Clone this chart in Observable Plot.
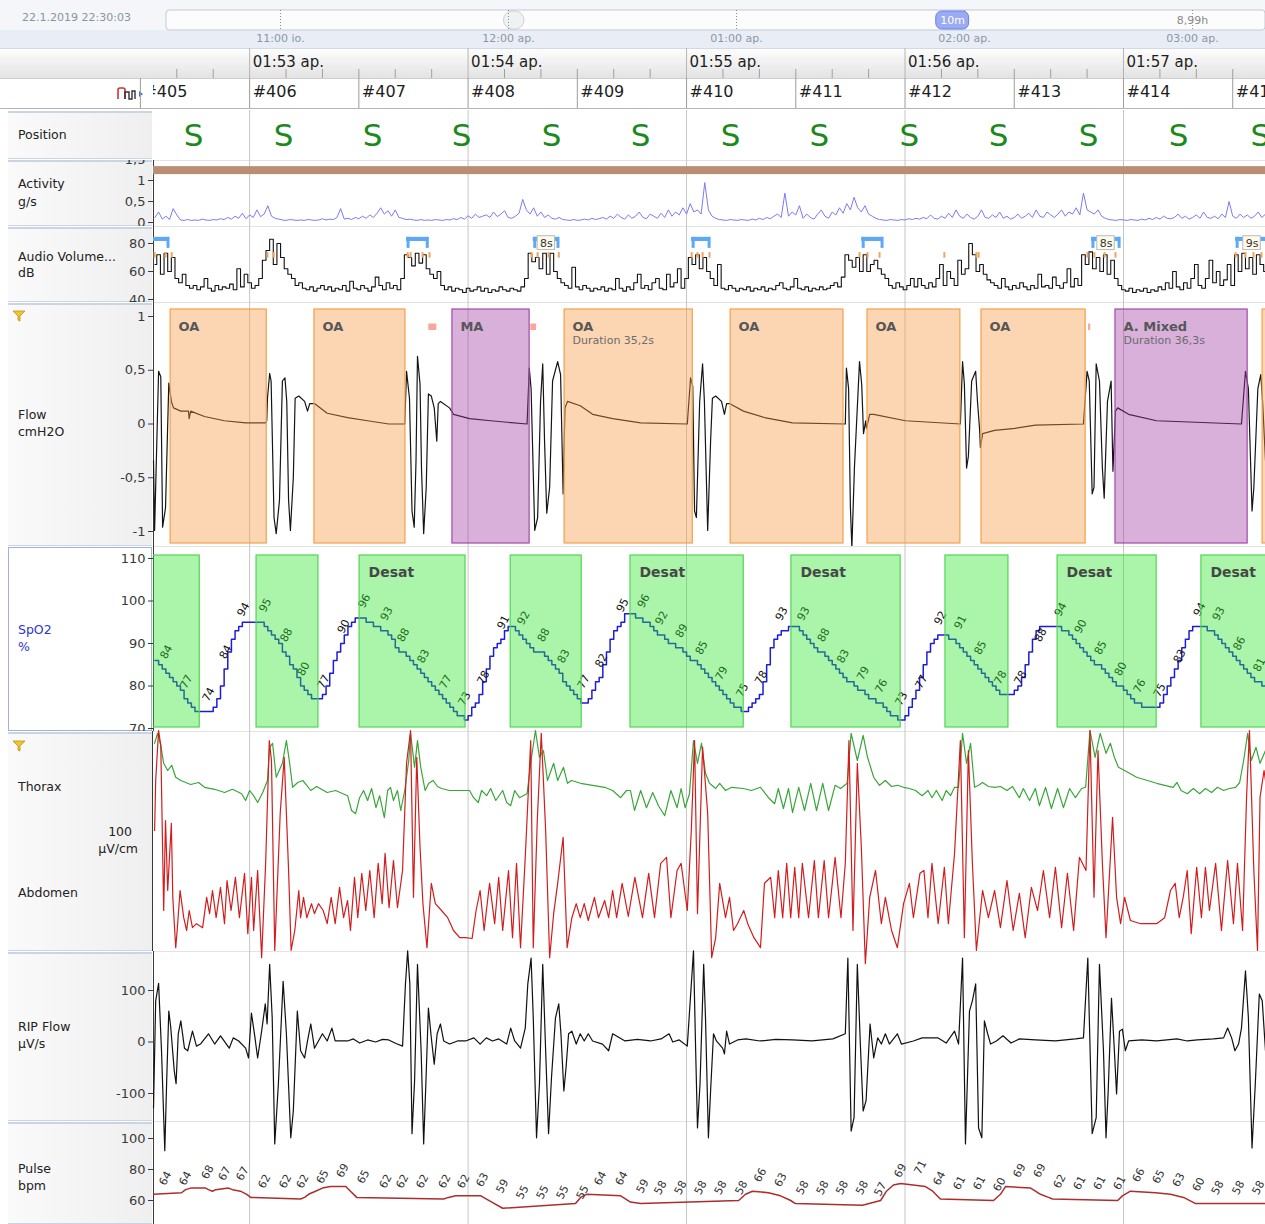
<!DOCTYPE html>
<html><head><meta charset="utf-8">
<script src="https://cdn.jsdelivr.net/npm/d3@7"></script>
<script src="https://cdn.jsdelivr.net/npm/@observablehq/plot@0.6"></script>
<style>
body{margin:0;background:#fff;font-family:"DejaVu Sans",sans-serif;}
#root{position:relative;width:1265px;height:1224px;overflow:hidden;background:#fff;}
.lbl{position:absolute;font-size:12.5px;color:#222;line-height:16px;white-space:nowrap;}
</style>
</head><body><div id="root"></div>
<script>
// ---------------- DATA ----------------
// time axis: seconds relative to 01:53:00 ap.
const timeDomain = [-26.4, 279.0];
const sampleStart = -26;             // per-second series start
const minuteTimes = [0, 60, 120, 180, 240];
const minuteLabels = ["01:53 ap.", "01:54 ap.", "01:55 ap.", "01:56 ap.", "01:57 ap."];
const tenSecondTicks = [-20,-10,10,20,30,40,50,70,80,90,100,110,130,140,150,160,170,190,200,210,220,230,250,260,270];
const epochStarts = [-30,0,30,60,90,120,150,180,210,240,270];
const epochLabels = ["#405","#406","#407","#408","#409","#410","#411","#412","#413","#414","#415"];

// overview (hours of the night)
const overviewSpan = [22.5, 27.32];
const hourTicks = [23, 24, 25, 26, 27];
const hourLabels = ["11:00 io.", "12:00 ap.", "01:00 ap.", "02:00 ap.", "03:00 ap."];
const viewPill = [{from: 25.876, to: 26.02, mid: 25.948, label: "10m"}];
const recordLength = [{at: 27, label: "8,99h"}];
const handle = [{from: 23.98, to: 24.07}];

// position
const positionTimes = [-15.4, 9.3, 33.8, 58.2, 82.9, 107.4, 132.1, 156.5, 181.2, 205.7, 230.4, 255.1, 277.6];
const positionCodes = ["S","S","S","S","S","S","S","S","S","S","S","S","S"];

// activity g/s, one value per second
const activity = [
0.12,0.25,0.08,0.15,0.07,0.33,0.18,0.06,0.05,0.07, 0.05,0.06,0.05,0.08,0.06,0.05,0.07,0.06,0.09,0.07,
0.12,0.08,0.15,0.1,0.22,0.09,0.18,0.12,0.3,0.14, 0.2,0.4,0.15,0.1,0.08,0.06,0.05,0.07,0.06,0.05,
0.06,0.05,0.07,0.06,0.05,0.06,0.09,0.06,0.08,0.07, 0.12,0.33,0.08,0.1,0.07,0.12,0.09,0.15,0.1,0.18,
0.12,0.22,0.35,0.2,0.28,0.15,0.3,0.12,0.1,0.07, 0.08,0.06,0.05,0.07,0.05,0.06,0.05,0.07,0.06,0.05,
0.07,0.06,0.09,0.07,0.12,0.08,0.16,0.1,0.2,0.12, 0.15,0.18,0.12,0.25,0.14,0.2,0.28,0.12,0.1,0.15,
0.22,0.55,0.3,0.2,0.35,0.15,0.25,0.12,0.18,0.1, 0.08,0.12,0.07,0.06,0.05,0.07,0.05,0.06,0.08,0.06,
0.1,0.07,0.09,0.12,0.08,0.15,0.1,0.2,0.12,0.08, 0.18,0.1,0.15,0.25,0.12,0.09,0.2,0.15,0.1,0.22,
0.12,0.3,0.15,0.25,0.18,0.35,0.2,0.45,0.25,0.3, 0.2,0.95,0.3,0.15,0.1,0.07,0.06,0.05,0.07,0.06,
0.05,0.07,0.06,0.05,0.08,0.06,0.1,0.07,0.12,0.09, 0.15,0.2,0.12,0.7,0.15,0.25,0.18,0.4,0.1,0.2,
0.12,0.08,0.2,0.3,0.15,0.1,0.25,0.18,0.35,0.22, 0.45,0.3,0.6,0.35,0.25,0.4,0.2,0.15,0.1,0.07,
0.06,0.05,0.07,0.06,0.05,0.07,0.06,0.09,0.07,0.1, 0.08,0.12,0.09,0.18,0.1,0.08,0.15,0.1,0.22,0.12,
0.3,0.15,0.1,0.2,0.12,0.08,0.15,0.3,0.12,0.1, 0.18,0.12,0.25,0.1,0.15,0.08,0.12,0.2,0.1,0.15,
0.22,0.12,0.3,0.15,0.12,0.25,0.18,0.12,0.2,0.3, 0.15,0.25,0.2,0.35,0.18,0.7,0.3,0.25,0.2,0.3,
0.15,0.1,0.07,0.06,0.05,0.07,0.06,0.05,0.07,0.06, 0.05,0.08,0.06,0.1,0.07,0.12,0.08,0.15,0.1,0.09,
0.12,0.2,0.1,0.15,0.08,0.12,0.18,0.1,0.25,0.12, 0.1,0.15,0.09,0.2,0.12,0.5,0.15,0.1,0.2,0.12,
0.18,0.1,0.15,0.25,0.12,0.2];
const activityBand = [{from: -26.4, to: 279.0, lo: 1.14, hi: 1.33}];

// audio volume dB, one value per second
const audio = [
65,72,58,73,60,70,55,52,58,50, 48,50,47,49,55,48,46,50,47,49,
48,51,47,62,49,58,52,48,50,55, 68,75,83,65,80,70,62,58,55,50,
52,48,47,49,46,48,50,47,49,46, 48,47,50,46,53,48,47,50,48,46,
49,56,50,47,52,48,50,47,55,72, 70,64,73,66,72,62,58,55,60,50,
47,49,46,48,47,45,48,46,47,49, 46,48,45,47,46,49,47,46,48,47,
46,49,55,73,67,70,62,73,58,73, 60,55,52,50,48,63,49,47,50,48,
46,48,47,49,46,48,47,55,48,46, 49,47,52,58,48,50,47,52,55,48,
47,58,49,52,62,48,55,70,65,72, 62,70,60,55,50,65,48,47,50,48,
46,48,47,49,46,48,47,49,46,48, 47,50,52,48,47,49,55,48,47,49,
46,48,47,49,47,48,50,52,49,56, 72,68,63,70,60,72,60,65,68,62,
58,55,50,48,52,49,47,50,55,49, 55,50,48,52,49,55,65,50,60,55,
50,68,58,62,80,72,60,65,58,54, 52,50,48,55,49,47,50,48,52,49,
47,50,48,58,49,50,48,56,50,48, 52,62,49,55,50,72,65,74,62,70,
60,72,58,68,55,50,47,46,48,45, 47,46,48,45,47,46,49,47,52,48,
60,49,47,52,48,55,65,50,48,55, 68,52,60,50,54,65,50,72,60,73,
62,70,58,72,65,60];
const snoreStart = [-27.5, 43.1, 77.9, 121.4, 168.1, 231.2, 270.8];
const snoreEnd   = [-22.0, 49.2, 85.1, 126.6, 174.1, 239.2, 279.8];
const snoreLabel = ["", "", "8s", "", "", "8s", "9s"];
const snoreTicks = [-26.1,-23.1,-21.4,4.9,6.6,43.4,44.2,47.5,49.4,77.4,79.1,82.1,84.9,121.4,123.0,124.4,126.3,167.5,169.7,173.0,190.8,199.6,200.2,230.1,232.0,234.8,237.8,270.8,273.5,275.7,277.9];

// flow cmH2O, [time, value]
const flow = [[-26.4,-0.34],[-26.1,-0.99],[-25.0,0.49],[-24.4,0.44],[-23.9,-0.96],[-23.1,-0.78],[-22.2,0.38],[-21.5,0.21],[-20.9,0.15],[-18.9,0.12],[-16.8,0.12],[-16.6,0.05],[-16.2,0.12],[-12.4,0.07],[-6.9,0.03],[-1.1,0.01],[4.4,0.01],[4.7,0.03],[4.9,0.24],[5.5,0.47],[5.9,0.40],[6.7,-0.87],[7.3,-1.02],[8.2,-0.71],[9.0,0.40],[9.7,0.43],[10.2,0.21],[10.7,-0.71],[11.2,-0.99],[12.0,-0.50],[12.5,0.24],[13.5,0.26],[15.1,0.21],[15.9,0.12],[16.5,0.19],[17.8,0.19],[21.3,0.10],[26.9,0.06],[32.4,0.03],[38.2,0.00],[42.6,0.00],[43.1,0.49],[43.9,0.24],[44.6,-0.81],[45.2,-0.96],[45.7,-0.34],[46.1,0.63],[46.8,0.37],[47.2,-0.41],[47.8,-1.02],[48.5,-0.59],[49.1,0.28],[49.9,0.26],[50.7,0.15],[51.4,-0.16],[51.8,0.19],[52.4,0.21],[54.9,0.15],[56.0,0.09],[60.4,0.05],[66.2,0.03],[76.2,0.00],[76.8,0.52],[77.3,0.33],[78.3,-0.99],[79.1,-0.87],[79.9,0.21],[80.5,0.56],[81.0,-0.16],[81.6,-0.83],[82.4,-0.59],[83.2,0.40],[84.6,0.58],[85.4,0.46],[86.1,-0.65],[86.6,0.15],[87.3,0.21],[90.8,0.17],[94.2,0.09],[99.7,0.05],[107.4,0.01],[120.2,0.00],[121.1,0.43],[121.7,0.35],[122.2,-0.81],[122.7,-0.87],[123.6,0.21],[124.4,0.56],[124.9,0.21],[125.8,-0.99],[126.6,-0.16],[127.1,0.24],[128.0,0.26],[129.6,0.21],[130.4,0.09],[131.0,0.19],[131.8,0.19],[135.6,0.12],[141.4,0.06],[149.1,0.01],[163.6,0.00],[163.9,0.52],[164.5,0.33],[165.0,-0.78],[165.4,-1.15],[166.1,-0.41],[167.5,0.58],[168.1,0.37],[168.6,-0.09],[169.2,0.03],[169.4,-0.04],[170.3,0.09],[171.4,0.09],[180.1,0.03],[195.2,0.00],[195.8,0.58],[196.3,0.37],[196.9,-0.41],[197.4,-0.30],[198.3,0.40],[199.4,0.49],[199.9,0.21],[200.5,-0.06],[200.7,-0.22],[201.3,-0.09],[204.6,-0.06],[210.2,-0.04],[215.8,-0.01],[229.0,0.00],[230.0,0.49],[230.6,0.40],[231.4,-0.65],[231.9,-0.59],[232.5,0.56],[233.4,0.40],[234.2,-0.41],[234.7,-0.69],[235.6,0.21],[236.6,0.40],[237.1,-0.44],[237.8,0.12],[238.4,0.15],[241.4,0.09],[249.1,0.03],[272.4,0.00],[273.5,0.49],[274.3,0.33],[275.3,-0.81],[275.8,-0.59],[276.9,0.33],[277.7,0.46],[278.2,0.21],[279.0,-0.34]];
const apneaStart = [-21.7, 17.8, 55.7, 86.5, 132.1, 169.7, 201.0, 237.8, 278.2];
const apneaEnd   = [4.7, 42.8, 76.9, 121.7, 163.1, 195.2, 229.6, 274.1, 300];
const apneaType  = ["OA","OA","MA","OA","OA","OA","OA","A. Mixed","OA"];
const apneaNote  = ["","","","Duration 35,2s","","","","Duration 36,3s",""];
const arousalStart = [49.2, 77.2, 230.4];
const arousalEnd   = [51.4, 78.8, 231.0];

// SpO2 %, one value per second
const spo2 = [
86,85,84,83,82,81,80,79,77,76, 75,74,74,74,74,74,75,77,80,84,
88,91,93,94,95,95,95,95,95,95, 94,93,92,91,90,88,87,85,84,82,
80,79,78,77,77,77,78,80,83,86, 88,90,92,94,95,96,96,96,95,95,
94,94,93,93,92,91,89,88,88,87, 86,85,84,83,82,81,80,79,78,77,
76,75,74,73,73,72,73,75,76,78, 81,84,87,89,90,91,93,94,94,93,
92,91,90,89,88,88,88,87,86,85, 84,83,81,80,79,78,77,76,76,77,
79,81,82,85,88,91,93,94,95,97, 97,97,96,96,95,95,94,93,92,92,
91,90,90,89,89,88,87,86,86,85, 84,83,82,81,80,79,78,77,76,75,
75,74,74,75,76,77,78,81,85,89, 91,92,93,93,94,94,94,93,92,91,
90,89,88,88,87,86,85,84,83,82, 81,81,80,79,79,78,77,77,76,76,
75,74,73,73,72,72,73,75,77,79, 82,85,88,90,91,92,92,92,91,91,
90,89,88,87,86,85,84,83,82,81, 80,79,78,78,78,78,79,80,82,85,
88,91,93,94,94,94,94,94,94,93, 93,92,91,90,89,88,87,86,85,85,
84,83,82,81,80,80,79,78,77,76, 76,75,75,75,75,75,76,78,80,82,
84,86,89,91,93,94,94,94,94,93, 93,92,91,90,89,88,87,86,85,84,
83,82,81,81,80,80];
const valueLabelTimes = [-23.7,-18.2,-12.1,-7.4,-2.5,3.5,9.3,14.0,19.5,25.0,30.7,36.8,41.4,46.9,53.0,58.2,63.4,68.9,74.4,79.9,85.4,90.9,95.8,101.6,107.4,112.3,117.8,123.3,128.8,134.5,139.7,145.3,151.3,156.8,162.2,167.7,172.7,178.2,183.7,188.9,194.4,199.9,205.4,210.9,216.4,221.9,227.4,232.9,238.4,243.6,249.1,254.6,260.1,265.3,271.0,276.5];
const spo2LabelValues = [84,77,74,84,94,95,88,80,77,90,96,93,88,83,77,73,78,91,92,88,83,77,82,95,96,92,89,85,79,75,78,93,93,88,83,79,76,73,77,92,91,85,78,78,88,94,90,85,80,76,75,83,94,93,86,81];
const desatStart = [-40, 1.9, 30.2, 71.7, 104.6, 148.8, 191.1, 221.9, 261.4];
const desatEnd   = [-13.7, 18.9, 59.3, 91.2, 135.7, 178.8, 208.4, 249.1, 290];
const desatLabeled = [false,false,true,false,true,true,false,true,true];

// thorax / abdomen µV, [time, value]
const thorax = [[-26.1,118],[-25.3,143],[-24.4,113],[-23.6,68],[-22.5,50],[-21.4,63],[-20.3,33],[-18.9,25],[-16.2,15],[-14.0,20],[-12.4,8],[-9.6,3],[-6.9,-5],[-4.7,3],[-2.2,-8],[-1.1,-25],[0.0,0],[1.1,-13],[2.2,-30],[3.6,-5],[4.9,25],[5.5,108],[6.3,118],[7.3,33],[9.0,68],[10.1,125],[11.0,68],[11.8,8],[13.2,20],[14.6,25],[15.7,13],[16.8,0],[18.4,10],[21.3,-5],[23.6,0],[26.9,-13],[28.0,-50],[29.1,-58],[30.2,-18],[31.3,0],[32.4,-25],[33.5,5],[34.7,-43],[35.7,-13],[37.0,-68],[37.9,0],[38.7,8],[39.5,-25],[40.6,0],[41.5,-50],[42.6,0],[43.7,75],[44.2,143],[45.3,58],[46.1,125],[47.0,58],[48.2,0],[49.2,18],[50.4,25],[51.6,10],[52.7,5],[54.9,0],[60.4,0],[61.5,-18],[62.8,-30],[63.7,0],[65.1,-13],[66.2,5],[67.6,-25],[69.5,0],[70.6,-30],[71.7,-38],[72.8,0],[74.1,-18],[76.2,-8],[77.3,75],[78.5,150],[79.6,83],[80.7,100],[81.8,25],[83.5,68],[84.6,25],[86.2,58],[87.3,18],[88.4,25],[90.9,18],[94.2,13],[97.5,8],[99.7,0],[101.9,-18],[103.5,0],[104.6,0],[105.7,-50],[107.4,0],[109.0,-43],[110.7,-5],[112.3,-38],[114.0,-63],[115.7,0],[117.4,-43],[118.5,5],[119.6,-43],[120.8,-8],[121.9,125],[123.0,68],[124.1,118],[125.2,43],[126.3,18],[128.0,5],[129.1,18],[130.7,0],[132.4,8],[135.6,5],[137.8,0],[140.3,8],[142.5,-18],[144.2,-33],[145.2,5],[146.6,-45],[148.0,5],[149.1,-55],[150.8,8],[152.4,-50],[154.1,18],[155.7,-50],[157.4,18],[159.0,-50],[160.8,13],[162.3,5],[164.1,18],[165.2,143],[166.9,75],[168.5,138],[169.7,83],[171.4,33],[173.0,13],[174.6,25],[176.3,10],[177.9,13],[179.6,8],[181.2,5],[182.9,0],[184.7,-13],[186.3,0],[187.4,-18],[188.6,0],[190.2,-25],[191.3,0],[192.5,-13],[193.6,8],[194.7,8],[195.8,143],[196.9,68],[198.0,118],[199.1,8],[200.2,13],[201.3,20],[202.9,10],[204.6,8],[206.2,10],[208.0,0],[209.5,10],[211.4,-18],[212.5,5],[214.2,-25],[215.8,5],[216.9,-38],[218.6,8],[220.2,-45],[221.9,5],[223.5,-43],[225.2,5],[226.8,-18],[228.5,5],[229.6,8],[230.8,150],[232.2,83],[233.6,143],[235.2,93],[236.4,118],[237.5,83],[238.6,58],[240.3,50],[243.6,33],[249.1,18],[253.6,8],[254.7,20],[255.8,0],[257.5,-8],[259.2,5],[260.9,-8],[262.5,5],[264.2,-5],[265.8,8],[267.5,0],[269.1,5],[270.8,8],[271.9,20],[273.0,75],[274.1,143],[275.1,75],[276.4,108],[277.5,68],[279.0,100]];
const abdomen = [[-26.1,175],[-25.8,300],[-25.0,425],[-24.4,388],[-23.6,-25],[-23.1,200],[-22.5,25],[-21.5,193],[-21.1,8],[-20.3,-118],[-19.9,-75],[-19.1,25],[-18.1,-43],[-17.3,-75],[-16.6,-25],[-15.7,-68],[-14.6,-58],[-12.9,-68],[-11.8,8],[-11.0,-33],[-10.2,25],[-9.2,-43],[-8.0,33],[-6.9,-58],[-6.2,50],[-5.1,-25],[-3.9,58],[-2.8,-43],[-1.4,68],[-0.5,-83],[0.5,58],[1.1,-75],[2.2,75],[3.3,-143],[4.4,93],[5.4,400],[6.0,350],[6.9,-125],[8.4,218],[9.5,358],[10.7,75],[11.4,-125],[12.4,-75],[13.5,25],[14.0,-43],[14.8,8],[15.7,-43],[17.0,-8],[17.8,-33],[18.9,-8],[20.2,-25],[21.3,-58],[22.4,8],[23.5,-58],[24.7,33],[25.8,-43],[26.9,0],[27.7,-75],[28.8,58],[29.7,-43],[30.8,68],[31.9,-25],[33.0,75],[34.2,-43],[35.3,93],[36.4,-8],[37.2,118],[38.3,-18],[39.5,100],[40.6,-18],[42.0,75],[43.1,343],[44.2,425],[45.0,8],[45.9,358],[46.8,133],[47.6,-8],[48.7,-118],[49.9,43],[51.0,-8],[52.7,-25],[54.4,-43],[56.0,-75],[57.7,-93],[59.3,-93],[61.1,-95],[62.2,-25],[63.3,25],[64.4,-75],[65.9,43],[67.3,-58],[68.4,58],[69.5,-75],[71.1,75],[72.2,-93],[73.3,93],[74.4,-118],[75.7,108],[77.2,400],[77.9,-118],[79.0,200],[80.1,418],[81.3,175],[82.4,-143],[83.5,-33],[84.6,43],[86.1,158],[87.2,-118],[88.5,-43],[89.7,-8],[90.8,-43],[91.9,-8],[93.0,-50],[94.7,8],[95.8,-43],[97.5,0],[98.6,-43],[99.7,25],[100.8,-43],[102.3,43],[104.0,-40],[105.8,58],[107.9,-43],[109.6,68],[111.2,-43],[112.9,93],[114.5,108],[115.7,-43],[117.4,75],[118.5,93],[120.2,-25],[121.3,175],[122.2,400],[123.0,-33],[124.4,383],[125.8,218],[126.9,-143],[128.0,-93],[129.1,43],[130.7,-43],[131.8,8],[132.9,-75],[134.0,-58],[135.7,-25],[136.8,-58],[138.5,-93],[140.3,-118],[141.4,43],[143.1,58],[144.2,-43],[145.2,75],[146.4,-43],[147.5,93],[148.6,-43],[149.7,83],[150.8,-43],[151.8,93],[153.5,-43],[155.1,100],[156.2,-43],[157.8,100],[159.0,-43],[160.8,108],[162.4,-43],[163.6,93],[164.6,400],[165.7,-75],[166.9,343],[168.0,133],[169.1,-158],[170.3,8],[171.9,75],[173.5,-58],[174.6,8],[176.3,-75],[177.9,-118],[179.6,-8],[181.2,43],[182.3,-43],[184.1,68],[185.2,75],[186.3,-43],[187.4,93],[189.1,-58],[190.8,83],[191.9,-58],[193.6,118],[195.2,400],[196.3,-93],[197.4,375],[198.5,93],[199.6,-125],[201.3,25],[202.9,-43],[204.6,25],[206.2,-68],[208.0,50],[209.7,-75],[211.4,18],[213.0,-93],[214.7,33],[216.4,-25],[218.0,75],[219.7,-43],[221.3,83],[223.0,-68],[224.6,68],[226.3,-75],[227.9,108],[229.7,75],[230.8,425],[231.9,8],[233.0,375],[234.2,93],[235.2,-93],[237.0,208],[238.1,8],[239.2,-58],[240.3,8],[241.9,-50],[244.7,-58],[249.1,-58],[251.3,-43],[252.9,25],[254.2,43],[255.3,-43],[256.4,8],[257.5,75],[258.6,-83],[260.1,83],[261.4,-43],[262.5,83],[263.6,-25],[265.3,93],[266.9,-75],[268.6,100],[270.2,-58],[271.3,93],[272.7,-75],[273.8,258],[274.6,425],[275.8,75],[276.8,-125],[277.5,258],[278.6,325],[279.0,300]];

// RIP flow µV/s, [time, value]
const ripFlow = [[-26.4,-128],[-25.8,80],[-25.0,114],[-24.2,-17],[-23.3,-211],[-22.8,-81],[-22.2,60],[-21.7,31],[-20.7,-56],[-20.2,-81],[-19.6,16],[-18.9,41],[-17.9,-12],[-17.0,-17],[-15.7,21],[-14.6,-8],[-13.5,-4],[-11.3,16],[-9.6,-4],[-8.0,12],[-5.6,-12],[-4.5,8],[-3.0,2],[-1.1,-12],[-0.3,-31],[0.5,56],[1.4,12],[2.2,-31],[3.3,21],[4.3,74],[4.8,35],[5.5,151],[6.2,47],[6.9,-198],[7.9,-81],[9.2,118],[10.1,16],[11.3,-186],[12.0,-134],[13.1,60],[14.0,-17],[15.1,-31],[15.9,2],[16.8,35],[17.8,-12],[18.9,2],[20.0,16],[21.3,2],[22.6,27],[23.5,2],[26.9,2],[28.5,6],[30.2,-2],[32.4,4],[34.6,0],[36.5,5],[38.2,4],[40.2,-3],[42.0,-8],[42.8,113],[43.4,177],[44.0,113],[44.6,-178],[45.3,-76],[46.1,151],[47.1,-17],[47.8,-198],[48.4,-81],[49.1,66],[49.9,8],[50.7,-43],[51.5,16],[52.4,35],[53.3,2],[54.9,-4],[57.1,2],[59.3,2],[61.6,8],[63.3,-4],[65.0,8],[66.7,2],[68.4,6],[70.6,-4],[71.7,27],[72.8,2],[74.4,-12],[75.7,27],[76.4,113],[77.3,163],[77.9,47],[78.8,-186],[79.6,-81],[80.5,151],[81.3,-17],[82.1,-178],[82.9,-70],[84.0,47],[84.9,74],[85.5,16],[86.3,-95],[86.9,-50],[87.6,16],[88.5,21],[89.7,-4],[90.8,16],[91.9,2],[93.0,16],[94.2,2],[96.9,-4],[98.6,-17],[99.7,16],[103.1,2],[106.5,5],[110.1,2],[113.0,6],[115.2,16],[116.2,0],[118.0,4],[120.2,-8],[121.9,177],[122.5,-17],[123.0,-167],[123.7,-81],[124.7,151],[125.2,47],[126.0,-186],[126.6,-95],[127.4,16],[128.2,2],[129.9,-12],[130.4,-23],[131.0,21],[131.8,-4],[134.0,4],[136.3,6],[140.2,2],[144.5,5],[149.1,4],[154.5,2],[160.2,6],[163.6,16],[164.3,163],[165.2,-173],[166.0,-147],[166.9,151],[167.8,-17],[168.5,-134],[169.3,-114],[170.4,35],[171.4,-31],[172.5,8],[173.5,-4],[174.6,16],[175.7,-4],[177.9,16],[179.0,-4],[182.3,2],[184.7,8],[189.1,8],[191.3,-2],[193.6,21],[194.7,-4],[195.8,163],[196.6,-198],[197.7,60],[198.5,80],[199.4,113],[200.2,-167],[201.1,-186],[201.8,41],[202.7,16],[203.5,-4],[205.1,2],[206.9,12],[209.1,-2],[211.4,6],[215.8,4],[221.3,2],[226.8,6],[229.0,8],[230.2,163],[231.4,-178],[232.5,-147],[233.4,151],[234.5,-17],[235.2,-186],[235.8,-95],[236.7,85],[237.5,-17],[238.1,-101],[238.9,21],[239.7,25],[240.5,-17],[241.4,2],[245.0,4],[249.1,2],[254.7,6],[257.5,2],[260.3,4],[264.7,6],[267.5,8],[268.6,27],[269.7,8],[270.6,-17],[271.6,-4],[272.4,27],[273.5,138],[274.3,47],[275.3,-206],[276.2,-81],[277.3,93],[278.1,80],[279.0,-17]];

// pulse bpm, [time, value]
const pulse = [[-26.4,64],[-18.7,65],[-17.6,67],[-16.2,68],[-12.1,68],[-11.3,67],[-10.2,66],[-9.3,67],[-5.8,68],[-4.7,67],[-2.5,66],[-0.8,64],[0.3,62],[14.0,61],[15.1,62],[16.2,64],[18.1,66],[20.0,68],[22.2,69],[26.4,69],[27.7,66],[29.4,62],[53.3,61],[54.6,62],[56.6,63],[63.5,63],[66.5,59],[69.5,55],[89.5,58],[90.9,62],[92.5,64],[101.9,63],[104.6,59],[107.4,58],[134.3,60],[136.2,64],[138.1,66],[142.5,65],[145.8,63],[148.6,60],[149.9,58],[168.3,57],[173.3,60],[174.9,66],[176.8,70],[178.8,71],[185.6,69],[187.6,66],[189.7,61],[204.3,60],[206.2,64],[207.6,69],[214.5,68],[217.2,64],[219.4,62],[220.5,61],[238.4,60],[239.7,63],[241.9,66],[248.8,65],[252.9,64],[256.5,62],[259.8,58],[279.0,58]];
const pulseLabelValues = [64,64,68,67,67,62,62,62,65,69,65,62,62,62,62,62,63,59,55,55,55,55,64,64,59,58,58,58,58,58,66,63,58,58,58,58,57,69,71,64,61,61,60,69,69,62,61,61,61,66,65,63,60,58,58,58];

// ---------------- LAYOUT HELPERS ----------------
const W = 1265, X0 = 153;
const root = document.getElementById("root");
const FONT = "DejaVu Sans, sans-serif";
const gridColor = "#c6c6c6";
function div(style, html) { const d = document.createElement("div"); d.style.cssText = "position:absolute;" + style; if (html) d.innerHTML = html; root.appendChild(d); return d; }
function place(svg, top) { svg.style.position = "absolute"; svg.style.left = "0px"; svg.style.top = top + "px"; root.appendChild(svg); return svg; }
const series = arr => arr.map((v, i) => ({t: sampleStart + i, v}));
const comma = d => String(d).replace(".", ",");
function yAxis(domain, range, ticks, fmt) {
  return {domain, range, ticks, tickFormat: fmt || (d => String(d)), tickSize: 5, tickPadding: 3, line: true, label: null, axis: "left"};
}
function panel(height, y, marks, overflow) {
  return Plot.plot({
    width: W, height, marginLeft: X0, marginRight: 0, marginTop: 0, marginBottom: 0,
    x: {domain: timeDomain, axis: null}, y,
    style: {background: "transparent", overflow: overflow || "hidden", fontFamily: FONT, fontSize: "13px", color: "#3a3a3a"},
    marks
  });
}
const grid = () => Plot.ruleX(minuteTimes, {x: d => d, stroke: gridColor});

// ---------------- BACKGROUND / FRAME (HTML) ----------------
div("left:0;top:0;width:1265px;height:30px;background:#f4f6f9;");
div("left:0;top:30px;width:1265px;height:18px;background:#e9eef6;");
div("left:22px;top:11px;font-size:11px;color:#8a94a0;", "22.1.2019 22:30:03");
div("left:0;top:48px;width:1265px;height:30px;background:linear-gradient(#fdfdfd,#e3e3e3);border-top:1px solid #d3d9e1;box-sizing:border-box;");
div("left:0;top:78px;width:1265px;height:31px;background:#fff;border-top:1px solid #cfcfcf;border-bottom:1px solid #b5b5b5;box-sizing:border-box;");
div("left:116px;top:85px;", '<svg width="34" height="16"><path d="M2 14 V5 Q2 3 4 3 H7 Q9 3 9 5 V14" fill="none" stroke="#c33" stroke-width="1.6"/><path d="M9 14 V7 H13 V14 H16 V6 H19 V14" fill="none" stroke="#333" stroke-width="1.4"/><path d="M23 6 L27 9 L23 12 Z" fill="#3b6fe0"/></svg>');

const cells = [
  {top: 111, h: 48}, {top: 160, h: 66}, {top: 227, h: 75}, {top: 303, h: 243},
  {top: 547, h: 184, sel: true}, {top: 732, h: 219}, {top: 952, h: 169}, {top: 1122, h: 102}
];
for (const c of cells) {
  div(`left:8px;top:${c.top}px;width:144px;height:${c.h}px;box-sizing:border-box;` +
      (c.sel ? "background:#fff;border:1px solid #9fb3d6;" : "background:linear-gradient(90deg,#fafafa,#efefef);border-top:2px solid #c9d5e4;border-bottom:1px solid #c9d5e4;"));
}
// panel separators in the plot area
for (const y of [160, 226, 302, 546, 731, 951, 1121]) div(`left:153px;top:${y}px;width:1112px;height:1px;background:#e3e3e3;`);
div("left:152px;top:731px;width:1px;height:220px;background:#3a3a3a;");

const labels = [
  ["Position", 18, 127], ["Activity", 18, 176], ["g/s", 18, 194], ["Audio Volume...", 18, 249], ["dB", 18, 265],
  ["Flow", 18, 407], ["cmH2O", 18, 424], ["Thorax", 18, 779], ["Abdomen", 18, 885],
  ["RIP Flow", 18, 1019], ["µV/s", 18, 1036], ["Pulse", 18, 1161], ["bpm", 18, 1178]
];
for (const [t, x, y] of labels) div(`left:${x}px;top:${y}px;`, t).className = "lbl";
div("left:18px;top:622px;color:#2a36d0;", "SpO2").className = "lbl";
div("left:18px;top:639px;color:#2a36d0;", "%").className = "lbl";
div("left:96px;top:824px;width:36px;text-align:right;", "100").className = "lbl";
div("left:96px;top:841px;width:42px;text-align:right;", "µV/cm").className = "lbl";
const funnel = '<svg width="14" height="12"><path d="M1 1 H13 L8 6 V11 L6 10 V6 Z" fill="#f2c530" stroke="#b99315" stroke-width="0.8"/></svg>';
div("left:12px;top:307px;", funnel);
div("left:12px;top:737px;", funnel);

// ---------------- HEADER PLOTS ----------------
place(Plot.plot({
  width: W, height: 48, marginLeft: 166, marginRight: 0, marginTop: 10, marginBottom: 18,
  x: {domain: overviewSpan, axis: null},
  style: {background: "transparent", fontFamily: FONT},
  marks: [
    Plot.rect([{from: overviewSpan[0], to: overviewSpan[1]}], {x1: "from", x2: "to", fill: "#fcfcfd", stroke: "#c3cad4", rx: 3}),
    Plot.rect(handle, {x1: "from", x2: "to", fill: "#f0f1f3", stroke: "#cdd0d5", rx: 9, insetTop: 1, insetBottom: 1}),
    Plot.ruleX(hourTicks, {x: d => d, stroke: "#8c8c8c", strokeDasharray: "1,2"}),
    Plot.text(hourTicks, {x: d => d, text: (d, i) => hourLabels[i], frameAnchor: "bottom", dy: 11, fontSize: 11, fill: "#8a96a6"}),
    Plot.rect(viewPill, {x1: "from", x2: "to", fill: "#9aaaf3", stroke: "#6b80e6", rx: 6, insetTop: 1, insetBottom: 1}),
    Plot.text(viewPill, {x: "mid", text: "label", frameAnchor: "middle", fontSize: 11, fill: "#fff"}),
    Plot.text(recordLength, {x: "at", text: "label", frameAnchor: "middle", fontSize: 11, fill: "#8a8a8a"})
  ]
}), 0);

place(Plot.plot({
  width: W, height: 30, marginLeft: X0, marginRight: 0, marginTop: 0, marginBottom: 0,
  x: {domain: timeDomain, axis: null},
  style: {background: "transparent", fontFamily: FONT},
  marks: [
    Plot.tickX(tenSecondTicks, {x: d => d, stroke: "#a0a0a0", insetTop: 21}),
    Plot.ruleX(minuteTimes, {x: d => d, stroke: "#b5b5b5"}),
    Plot.text(minuteTimes, {x: d => d, text: (d, i) => minuteLabels[i], frameAnchor: "top", dy: 8, dx: 3, textAnchor: "start", fontSize: 15, fill: "#1e1e1e"})
  ]
}), 48);

place(Plot.plot({
  width: W, height: 30, marginLeft: X0, marginRight: 0, marginTop: 0, marginBottom: 0,
  x: {domain: timeDomain, axis: null},
  style: {background: "transparent", fontFamily: FONT},
  marks: [
    Plot.ruleX(epochStarts, {x: d => d, stroke: "#9c9c9c"}),
    Plot.text(epochStarts, {x: d => d, text: (d, i) => epochLabels[i], frameAnchor: "middle", dx: 3, dy: -2, textAnchor: "start", fontSize: 16, fill: "#1e1e1e", clip: true})
  ]
}), 78);

// ---------------- SIGNAL PANELS ----------------
// Position
place(Plot.plot({
  width: W, height: 50, marginLeft: X0, marginRight: 0, marginTop: 0, marginBottom: 0,
  x: {domain: timeDomain, axis: null},
  style: {background: "transparent", fontFamily: FONT},
  marks: [
    grid(),
    Plot.text(positionTimes, {x: d => d, text: (d, i) => positionCodes[i], frameAnchor: "middle", dy: 1, fontSize: 31, fill: "#1a8a1a"})
  ]
}), 110);

// Activity
place(panel(66, yAxis([0, 1.5], [62, -1], [0, 0.5, 1, 1.5], comma), [
  grid(),
  Plot.rect(activityBand, {x1: "from", x2: "to", y1: "lo", y2: "hi", fill: "#b98e72"}),
  Plot.line(series(activity), {x: "t", y: "v", stroke: "#7b7bf3", strokeWidth: 1})
]), 160);

// Audio
const snores = snoreStart.map((s, i) => ({start: s, end: snoreEnd[i], mid: (s + snoreEnd[i]) / 2, label: snoreLabel[i]}));
const labeledSnores = snores.filter(d => d.label);
place(panel(76, yAxis([40, 80], [73, 17], [40, 60, 80]), [
  grid(),
  Plot.line(series(audio), {x: "t", y: "v", stroke: "#111", strokeWidth: 1.1, curve: "step"}),
  Plot.ruleX(snoreTicks, {x: d => d, y1: 69.5, y2: 73.5, stroke: "#f1a35c", strokeWidth: 2}),
  Plot.rect(snores, {x1: "start", x2: "end", y1: 81.4, y2: 84.4, fill: "#5ea9f3", clip: true}),
  Plot.ruleX(snores, {x: "start", y1: 76.5, y2: 84.4, stroke: "#5ea9f3", strokeWidth: 3, dx: 1.5, clip: true}),
  Plot.ruleX(snores, {x: "end", y1: 76.5, y2: 84.4, stroke: "#5ea9f3", strokeWidth: 3, dx: -1.5, clip: true}),
  Plot.rect(labeledSnores, {x1: d => d.mid - 2.4, x2: d => d.mid + 2.4, y1: 75.3, y2: 85.2, fill: "#fffbea", stroke: "#b9b9b9"}),
  Plot.text(labeledSnores, {x: "mid", y: 80.3, text: "label", fontSize: 11, fill: "#333"})
]), 226);

// Flow
const apneas = apneaStart.map((s, i) => ({start: s, end: apneaEnd[i], type: apneaType[i], note: apneaNote[i]}));
const arousals = arousalStart.map((s, i) => ({start: s, end: arousalEnd[i]}));
place(panel(244, yAxis([-1, 1], [229, 14], [-1, -0.5, 0, 0.5, 1], comma), [
  grid(),
  Plot.line(flow, {x: d => d[0], y: d => d[1], stroke: "#151515", strokeWidth: 1.2}),
  Plot.rect(apneas.filter(d => d.type === "OA"), {x1: "start", x2: "end", fill: "#f7983e", fillOpacity: 0.4, stroke: "#f3a04c", strokeWidth: 1.2, insetTop: 7, insetBottom: 3, clip: true}),
  Plot.rect(apneas.filter(d => d.type !== "OA"), {x1: "start", x2: "end", fill: "#9d39a2", fillOpacity: 0.4, stroke: "#a24aab", strokeWidth: 1.2, insetTop: 7, insetBottom: 3, clip: true}),
  Plot.text(apneas, {x: "start", text: "type", frameAnchor: "top", textAnchor: "start", dx: 8, dy: 19, fontWeight: "bold", fontSize: 13, fill: "#575757", clip: true}),
  Plot.text(apneas.filter(d => d.note), {x: "start", text: "note", frameAnchor: "top", textAnchor: "start", dx: 8, dy: 34, fontSize: 11, fill: "#6c6c6c", clip: true}),
  Plot.rect(arousals, {x1: "start", x2: "end", y1: 0.87, y2: 0.93, fill: "#f7a79c"})
]), 302);

// SpO2
const desats = desatStart.map((s, i) => ({start: s, end: desatEnd[i], labeled: desatLabeled[i]}));
const spo2Labels = valueLabelTimes.map((t, i) => ({t, v: spo2LabelValues[i]}));
place(panel(185, yAxis([70, 110], [182, 12], [70, 80, 90, 100, 110]), [
  grid(),
  Plot.line(series(spo2), {x: "t", y: "v", stroke: "#1d1dd8", strokeWidth: 1.5, curve: "step-after"}),
  Plot.text(spo2Labels, {x: "t", y: "v", text: d => String(d.v), rotate: -62, dy: -17, dx: 3, fontSize: 11, fill: "#111"}),
  Plot.rect(desats, {x1: "start", x2: "end", fill: "#2ae62a", fillOpacity: 0.4, stroke: "#52d552", strokeWidth: 1.2, insetTop: 9, insetBottom: 4, clip: true}),
  Plot.text(desats.filter(d => d.labeled), {x: "start", text: () => "Desat", frameAnchor: "top", textAnchor: "start", dx: 9, dy: 21, fontWeight: "bold", fontSize: 14, fill: "#474747", clip: true})
]), 546);

// Thorax & Abdomen
place(panel(220, {domain: [0, 100], range: [59, 19], axis: null}, [
  grid(),
  Plot.line(thorax, {x: d => d[0], y: d => d[1], stroke: "#3aa63a", strokeWidth: 1.2})
], "visible"), 731);
place(panel(220, {domain: [0, 100], range: [169, 129], axis: null}, [
  Plot.line(abdomen, {x: d => d[0], y: d => d[1], stroke: "#d11d1d", strokeWidth: 1.2})
], "visible"), 731);

// RIP Flow
place(panel(170, yAxis([-100, 100], [142, 39], [-100, 0, 100]), [
  grid(),
  Plot.line(ripFlow, {x: d => d[0], y: d => d[1], stroke: "#111", strokeWidth: 1.2})
], "visible"), 951);

// Pulse
const pulseLabels = valueLabelTimes.map((t, i) => ({t, v: pulseLabelValues[i]}));
place(panel(103, yAxis([60, 100], [79, 17], [60, 80, 100]), [
  grid(),
  Plot.line(pulse, {x: d => d[0], y: d => d[1], stroke: "#ad2d2d", strokeWidth: 1.5}),
  Plot.text(pulseLabels, {x: "t", y: "v", text: d => String(d.v), rotate: -62, dy: -16, dx: 2, fontSize: 11, fill: "#333"})
]), 1121);
</script></body></html>
